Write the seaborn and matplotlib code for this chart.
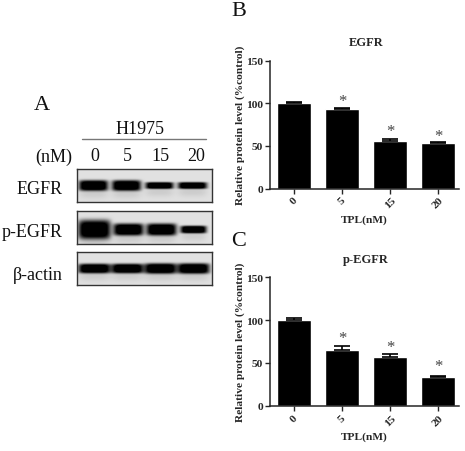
import numpy as np
import pandas as pd
import matplotlib
matplotlib.use('Agg')
import matplotlib.pyplot as plt
import seaborn as sns

W, H = 465, 452

doses = ['0', '5', '15', '20']
egfr_means = [100.5, 92.8, 56, 52.9]
egfr_errs = [1.5, 1.5, 1.6, 1.8]
pegfr_means = [100.5, 65, 57.3, 33.9]
pegfr_errs = [1.5, 4.2, 3.6, 0.7]
blot_names = ['EGFR', 'p-EGFR', 'β-actin']

# band size per lane in px (half width, half height)
egfr_widths = [14.5, 14.5, 14, 14.5]
egfr_heights = [5.3, 5.3, 3.4, 3.4]
pegfr_widths = [16, 15, 15, 13]
pegfr_heights = [9.5, 6, 6, 3.8]
actin_widths = [16, 16, 16, 16]
actin_heights = [4.8, 4.8, 5.2, 5.2]

sns.set_style('ticks')
plt.rcParams['font.family'] = ['Liberation Serif', 'DejaVu Serif']


def px_axes(fig, left, top, right, bottom):
    return fig.add_axes([left / W, 1 - bottom / H, (right - left) / W, (bottom - top) / H])


def bar_panel(fig, top, bottom, means, errs, title, title_y, star_ys):
    ax = px_axes(fig, 270, top, 459, bottom)
    df = pd.DataFrame({'dose': doses, 'value': means})
    sns.barplot(data=df, x='dose', y='value', color='black', saturation=1, width=0.7, ax=ax)
    ax.errorbar(range(4), means, yerr=[np.zeros(4), errs], fmt='none', ecolor='black',
                elinewidth=1.2, capsize=5.8, capthick=1.2)
    ax.set_xlim(-0.5, 3.44)
    ax.set_ylim(0, 150)
    ax.set_yticks([0, 50, 100, 150])
    ax.set_xlabel('TPL(nM)', fontsize=8.2, fontweight='bold', labelpad=3)
    ax.set_ylabel('Relative protein level (%control)', fontsize=8.2, fontweight='bold', labelpad=1)
    ax.tick_params(axis='both', width=1, length=3.5, labelsize=8.2, pad=1.5)
    plt.setp(ax.get_xticklabels(), rotation=45, fontweight='bold', ha='center')
    plt.setp(ax.get_yticklabels(), fontweight='bold')
    for spine in ['left', 'bottom']:
        ax.spines[spine].set_linewidth(1.1)
    sns.despine(ax=ax)
    fig.text(366 / W, 1 - title_y / H, title, fontsize=9, fontweight='bold', ha='center', va='center')
    for i, y in enumerate(star_ys):
        if y is not None:
            ax.text(i, y, '*', fontsize=12, color='#444444', ha='center', va='center')
    return ax


def blot(ax, widths, heights, centers, y_mid, tall):
    xs = np.arange(77, 212)
    ys = np.arange(0, tall)
    xx, yy = np.meshgrid(xs, ys)
    img = np.full(xx.shape, 0.88)
    for c, w, h in zip(centers, widths, heights):
        band = np.exp(-((xx - c) / w) ** 6 - ((yy - y_mid) / h) ** 4)
        # faint smear under the band
        smear = 0.08 * np.exp(-((xx - c) / w) ** 4 - ((yy - y_mid - h - 3) / 5) ** 2)
        img = img - 1.1 * band - smear
    ax.imshow(np.clip(img, 0, 1), cmap='gray', vmin=0, vmax=1, aspect='auto', interpolation='bicubic')
    ax.set_xticks([])
    ax.set_yticks([])
    for s in ax.spines.values():
        s.set_linewidth(1)
        s.set_color('#333333')


fig = plt.figure(figsize=(W / 100, H / 100), dpi=100)

bar_panel(fig, 61.7, 189.5, egfr_means, egfr_errs, 'EGFR', 43, [None, 103, 68, 62])
bar_panel(fig, 278.3, 406.7, pegfr_means, pegfr_errs, 'p-EGFR', 260, [None, 79, 68, 46])

# Panel A
blot(px_axes(fig, 77, 170, 212, 203), egfr_widths, egfr_heights, [93, 126, 159, 192], 16, 33)
blot(px_axes(fig, 77, 212, 212, 245), pegfr_widths, pegfr_heights, [94, 128, 161, 193], 18, 33)
blot(px_axes(fig, 77, 253, 212, 286), actin_widths, actin_heights, [94, 127, 160, 193], 16, 33)


def label(x, y, s, size=13, ha='center'):
    fig.text(x / W, 1 - (y + 2) / H, s, fontsize=size, ha=ha, va='center', color='#111111')


label(42, 103, 'A', 16)
label(239, 10, 'B', 16)
label(239, 240, 'C', 16)
label(140, 127, 'H1975')
fig.add_artist(plt.Line2D([82 / W, 206 / W], [1 - 140 / H] * 2, color='#777777', lw=1))
label(72, 155, '(nM)', ha='right')
for x, d in zip([95, 127, 160, 196], doses):
    label(x, 155, d)
for y, name in zip([187, 231, 274], blot_names):
    label(63, y, name, ha='right')

fig.savefig('out.png', dpi=100)
